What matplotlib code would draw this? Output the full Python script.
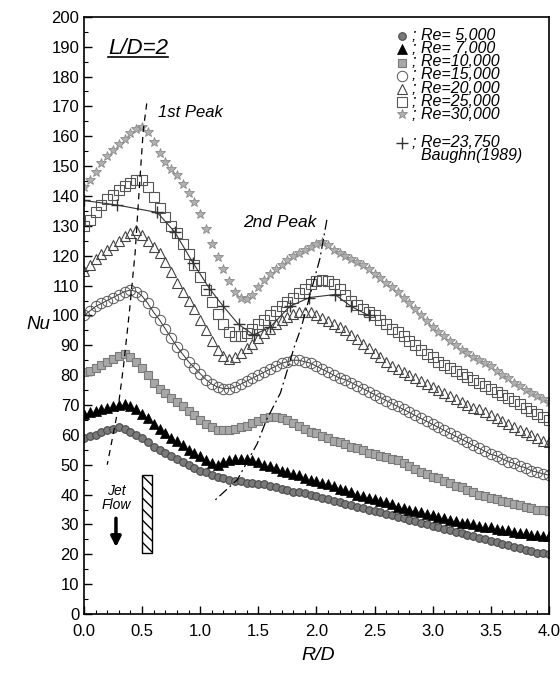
import numpy as np
import matplotlib.pyplot as plt
from matplotlib.patches import Rectangle
from matplotlib.ticker import MultipleLocator

plt.rcParams['font.family'] = ['Liberation Sans', 'DejaVu Sans']

# R/D stations (every 0.05)
r_d = np.round(np.arange(0, 81) * 0.05, 2)

nu_re5000 = [59, 59.5, 60, 61, 61.5, 62, 62.5, 62, 61, 60, 59, 57.5, 56, 55, 54, 53, 52, 51, 50, 49,
             48, 47.5, 46.5, 46, 45.5, 45, 44.5, 44.5, 44, 44, 43.5, 43.5, 43, 42.5, 42, 41.5, 41, 41, 40.5, 40,
             39.5, 39, 38.5, 38, 37.5, 37, 36.5, 36, 35.5, 35, 34.5, 34, 33.5, 33, 32.5, 32, 31.5, 31, 30.5, 30,
             29.5, 29, 28.5, 28, 27.5, 27, 26.5, 26, 25.5, 25, 24.5, 24, 23.5, 23, 22.5, 22, 21.5, 21, 20.5, 20.5,
             20]
nu_re7000 = [67, 67.5, 68, 68.5, 69, 69.5, 70, 70.5, 69.5, 68.5, 67, 65.5, 63.5, 62, 60.5, 59, 58, 56.5, 55, 54,
             53, 51.5, 50.5, 50, 51, 51.5, 52, 52, 52, 51.5, 51, 50, 49.5, 49, 48, 47.5, 47, 46.5, 45.5, 45,
             44.5, 44, 43.5, 43, 42, 41.5, 41, 40, 39.5, 39, 38.5, 38, 37.5, 37, 36, 35.5, 35, 34.5, 34, 33.5,
             33, 32.5, 32, 31.5, 31, 30.5, 30.5, 30, 29.5, 29, 29, 28.5, 28, 28, 27.5, 27, 27, 26.5, 26.5, 26,
             26]
nu_re10000 = [81, 81.5, 82.5, 83.5, 84.5, 85.5, 86.5, 87, 86, 84.5, 82.5, 80, 77.5, 75.5, 74, 72.5, 71, 69.5, 68, 66.5,
              65, 63.5, 62.5, 61.5, 61.5, 61.5, 62, 62.5, 63, 64, 64.5, 65.5, 66, 66, 65.5, 65, 64, 63, 62, 61,
              60.5, 59.5, 59, 58, 57.5, 57, 56, 55.5, 55, 54, 53.5, 53, 52.5, 52, 51.5, 50.5, 49.5, 48.5, 47.5, 47,
              46, 45.5, 44.5, 44, 43, 42.5, 41.5, 41, 40, 39.5, 39, 38.5, 38, 37.5, 37, 36.5, 36, 35.5, 35, 35,
              34.5]
nu_re15000 = [100, 101.5, 103, 104, 105, 106, 107, 108, 108.5, 108, 106.5, 104, 101, 98.5, 95.5, 92.5, 89.5, 87, 84.5, 82.5,
              80.5, 78.5, 77, 76, 75.5, 75.5, 76, 77, 78, 79, 80, 81, 82, 83, 84, 84.5, 85, 85, 84.5, 84,
              83, 82, 81, 80, 79, 78.5, 77.5, 76.5, 75.5, 74.5, 73.5, 72.5, 71.5, 70.5, 69.5, 68.5, 67.5, 66.5, 65.5, 64.5,
              63.5, 62.5, 61.5, 60.5, 59.5, 58.5, 57.5, 56.5, 55.5, 54.5, 53.5, 53, 52, 51, 50.5, 49.5, 49, 48, 47.5, 47,
              46.5]
nu_re20000 = [115, 117, 119, 120.5, 122, 123.5, 125, 126.5, 127.5, 128.5, 127, 125, 123, 121, 118, 114.5, 111, 108, 105, 102,
              98.5, 95, 91.5, 88.5, 86.5, 85.5, 86, 87.5, 89, 90.5, 92.5, 94, 95.5, 97, 98.5, 99.5, 100.5, 101, 101, 101,
              100, 99, 98, 97, 96, 95, 93.5, 92, 90.5, 89, 87.5, 86, 84.5, 83, 82, 81, 80, 79, 78, 77,
              76, 75, 74, 73, 72, 71, 70, 69, 68.5, 67.5, 66.5, 65.5, 64.5, 63.5, 62.5, 61.5, 61, 60, 59, 58,
              57.5]
nu_re25000 = [130, 132, 134.5, 137, 139, 140.5, 142, 143.5, 144.5, 145.5, 145.5, 143, 139.5, 136, 133, 130, 127.5, 124, 120.5, 117,
              113, 108.5, 104.5, 100.5, 97, 94.5, 93, 93, 94, 95.5, 97, 98.5, 100, 101.5, 103, 104.5, 106, 107.5, 109, 110.5,
              111.5, 112, 111.5, 110.5, 109, 107, 105, 103.5, 102, 101, 100, 98.5, 97, 95.5, 94.5, 93, 91.5, 90, 88.5, 87,
              86, 84.5, 83.5, 82.5, 81.5, 80.5, 79.5, 78.5, 77.5, 76.5, 75.5, 74.5, 73.5, 72.5, 71.5, 70.5, 69, 68, 67, 66,
              65]
nu_re30000 = [143, 145.5, 148, 151, 153.5, 155.5, 157.5, 159, 161, 162.5, 163, 161.5, 158, 154.5, 151.5, 149, 147, 144, 141, 138,
              134, 129, 124, 119.5, 115.5, 111.5, 108, 106, 105.5, 107, 109.5, 112, 114, 115.5, 117, 118.5, 120, 121, 122, 123,
              124, 124.5, 123.5, 122, 121, 120, 119, 118, 117, 115.5, 114, 112.5, 111, 109.5, 108, 106, 104, 102, 100, 98,
              96, 94.5, 93, 91.5, 90, 88.5, 87.5, 86, 85, 84, 83, 81.5, 80, 79, 77.5, 76.5, 75, 74, 73, 72,
              71]

# Baughn (1989), Re = 23,750
baughn_rd = [0.0, 0.28, 0.63, 0.78, 0.94, 1.08, 1.2, 1.33, 1.46, 1.6, 1.77, 1.94, 2.16, 2.3, 2.45]
baughn_nu = [138.5, 137, 134.5, 128, 117.5, 109, 103, 97, 93.5, 96, 103, 106, 107, 103, 100]

# peak trace lines
peak1_rd = [0.54, 0.51, 0.48, 0.44, 0.39, 0.34, 0.29, 0.20]
peak1_nu = [171, 162, 145, 121, 101, 83, 68, 50]
peak2_rd = [2.09, 2.03, 1.87, 1.81, 1.69, 1.57, 1.49, 1.32, 1.11]
peak2_nu = [132, 119, 96, 89.5, 74, 65, 57, 45, 37.5]

series = [
    (nu_re5000, '; Re= 5,000', dict(marker='o', ms=5.5, mfc='#7a7a7a', mec='#4a4a4a', mew=0.8, ls='none')),
    (nu_re7000, '; Re= 7,000', dict(marker='^', ms=7, mfc='black', mec='black', mew=0.5, ls='none')),
    (nu_re10000, '; Re=10,000', dict(marker='s', ms=6, mfc='#a8a8a8', mec='#7a7a7a', mew=0.8, ls='none')),
    (nu_re15000, '; Re=15,000', dict(marker='o', ms=7.5, mfc='none', mec='#555555', mew=0.7,
                                     ls='-', lw=0.7, color='#333333')),
    (nu_re20000, '; Re=20,000', dict(marker='^', ms=6.5, mfc='none', mec='#444444', mew=0.8, ls='none')),
    (nu_re25000, '; Re=25,000', dict(marker='s', ms=6.5, mfc='none', mec='#555555', mew=0.8, ls='none')),
    (nu_re30000, '; Re=30,000', dict(marker='*', ms=7.5, mfc='#b0b0b0', mec='#8a8a8a', mew=0.6, ls='none')),
]
baughn_style = dict(marker='+', ms=8, mec='#333333', mew=1.0, ls='-', lw=0.8, color='#333333')

fig = plt.figure(figsize=(5.6, 6.74), dpi=100)
ax = fig.add_axes([0.15, 0.089, 0.83, 0.886])

for nu, label, st in series:
    ax.plot(r_d, nu, **st)
ax.plot(baughn_rd, baughn_nu, **baughn_style)

ax.plot(peak1_rd, peak1_nu, ls=(0, (5, 4)), color='black', lw=0.9)
ax.plot(peak2_rd, peak2_nu, ls=(0, (8, 3, 1.5, 3)), color='black', lw=0.9)

ax.set_xlim(0, 4.0)
ax.set_ylim(0, 200)
ax.xaxis.set_major_locator(MultipleLocator(0.5))
ax.xaxis.set_minor_locator(MultipleLocator(0.1))
ax.yaxis.set_major_locator(MultipleLocator(10))
ax.yaxis.set_minor_locator(MultipleLocator(5))
ax.set_xticklabels([f'{v:.1f}' for v in ax.get_xticks()])
ax.tick_params(which='both', direction='in', top=False, right=False, labelsize=12)
ax.tick_params(which='major', length=6, width=1)
ax.tick_params(which='minor', length=3, width=0.8)
ax.tick_params(axis='x', pad=7)
for sp in ax.spines.values():
    sp.set_linewidth(1.2)

ax.set_xlabel('R/D', fontsize=14, style='italic')
ax.set_ylabel('Nu', fontsize=13.5, style='italic', rotation=0, va='center', ha='center')
ax.xaxis.set_label_coords(0.503, -0.056)
ax.yaxis.set_label_coords(-0.099, 0.484)

# annotations
t = ax.text(0.21, 189.5, 'L/D=2', fontsize=16, style='italic', va='center', ha='left')
ax.text(0.64, 168, '1st Peak', fontsize=12, style='italic', va='center', ha='left')
ax.text(1.37, 131, '2nd Peak', fontsize=12.5, style='italic', va='center', ha='left')
ax.text(0.275, 38.8, 'Jet\nFlow', fontsize=10, style='italic', va='center', ha='center', linespacing=1.0)
ax.annotate('', xy=(0.275, 21.5), xytext=(0.275, 33),
            arrowprops=dict(arrowstyle='-|>,head_width=0.3,head_length=0.6', lw=2.5, color='black'))
ax.add_patch(Rectangle((0.5, 20.5), 0.085, 26, fill=False, hatch='\\\\\\', lw=1, edgecolor='black'))

# underline under L/D=2
fig.canvas.draw()
bb = t.get_window_extent().transformed(ax.transData.inverted())
ax.plot([bb.x0, bb.x1], [bb.y0 + 0.5, bb.y0 + 0.5], color='black', lw=1.2)

# legend drawn by hand: markers on rows, labels as one text block
leg_x_mark = 2.735
leg_x_text = 2.82
leg_rows = [193.6, 189.3, 184.7, 180.3, 175.9, 171.6, 167.5]
for (nu, label, st), yy in zip(series, leg_rows):
    st2 = dict(st)
    st2['ls'] = 'none'
    ax.plot([leg_x_mark], [yy], **st2)
ax.text(leg_x_text, (leg_rows[0] + leg_rows[-1]) / 2,
        '\n'.join(lbl for _, lbl, _ in series),
        fontsize=11.5, style='italic', va='center', ha='left', linespacing=0.84)
b2 = dict(baughn_style)
b2['ls'] = 'none'
ax.plot([leg_x_mark], [157.8], **b2)
ax.text(leg_x_text, 155.8, '; Re=23,750\n  Baughn(1989)', fontsize=11.5, style='italic',
        va='center', ha='left', linespacing=0.84)

fig.savefig('out.png', dpi=100)
